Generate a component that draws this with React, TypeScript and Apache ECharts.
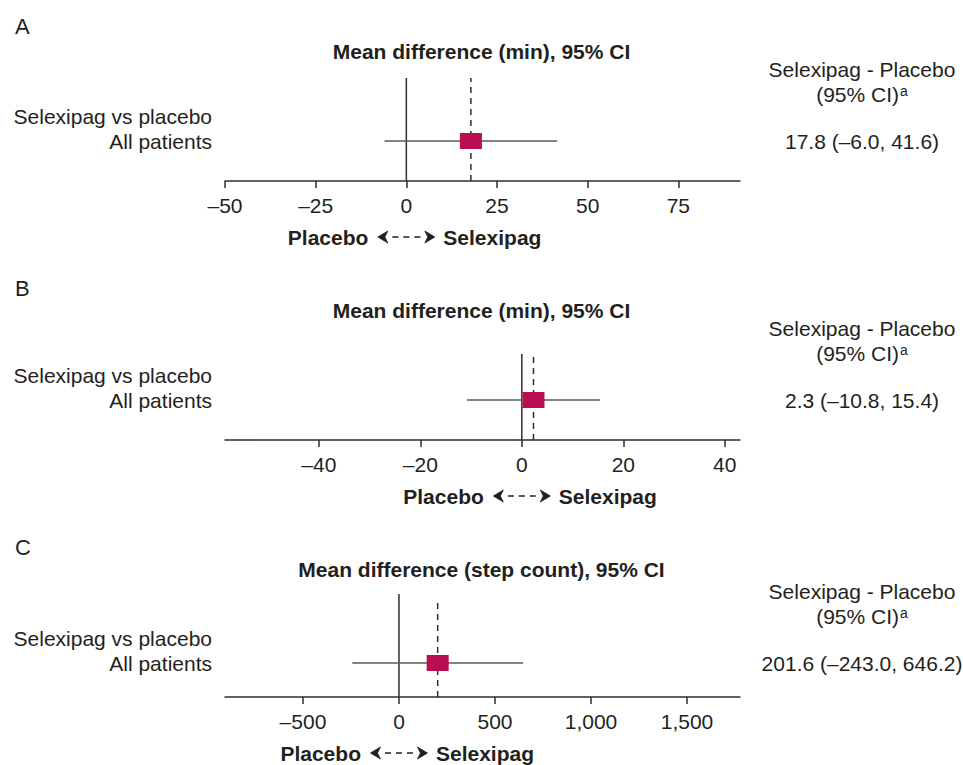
import React, { useEffect, useRef } from "react";
import * as echarts from "echarts";

// ---- data ----
const panelLetters = ["A", "B", "C"];
const panelTitles = [
  "Mean difference (min), 95% CI",
  "Mean difference (min), 95% CI",
  "Mean difference (step count), 95% CI",
];
const estimates = [17.8, 2.3, 201.6];
const ciLower = [-6.0, -10.8, -243.0];
const ciUpper = [41.6, 15.4, 646.2];
const axisMin = [-50, -58.5, -906];
const axisMax = [92, 43, 1776];
const tickValues = [
  [-50, -25, 0, 25, 50, 75],
  [-40, -20, 0, 20, 40],
  [-500, 0, 500, 1000, 1500],
];
const rowLabels = ["Selexipag vs placebo", "All patients"];
const resultHeader = ["Selexipag - Placebo", "(95% CI)", "a"];
const directionLabels = ["Placebo", "Selexipag"];

// ---- layout (pixels) ----
const PLOT_LEFT = 225;
const PLOT_RIGHT = 740;
const W = 963;
const H = 765;
const panelLayout = [
  { top: 78, row: 141, axis: 181, dashTop: 78, letterY: 26, titleY: 51 },
  { top: 354, row: 400, axis: 440, dashTop: 354, letterY: 288, titleY: 310 },
  { top: 594, row: 663, axis: 697, dashTop: 601, letterY: 547, titleY: 569 },
];
const FONT = '"Liberation Sans", Arial, Helvetica, sans-serif';
const TEXT = "#231f20";
const LINE = "#2e2e2e";
const CI_COLOR = "#5a5a5a";
const SQUARE = "#b80f50";

const fmtTick = (v: number) =>
  (v < 0 ? "\u2013" : "") + Math.abs(v).toLocaleString("en-US");
const fmtVal = (v: number) => (v < 0 ? "\u2013" : "") + Math.abs(v).toFixed(1);

const textWidth = (text: string, fontSize: number) => {
  try {
    const t = new (echarts.graphic as any).Text({
      style: { text, fontSize, fontFamily: FONT },
    });
    const w = t.getBoundingRect().width;
    if (w > 0) return w;
  } catch (e) {
    /* ignore */
  }
  return text.length * fontSize * 0.5;
};

export default function App() {
  const ref = useRef<HTMLDivElement>(null);
  useEffect(() => {
    const chart = echarts.init(ref.current!, null, { renderer: "svg" });
    const grid: any[] = [];
    const xAxis: any[] = [];
    const yAxis: any[] = [];
    const series: any[] = [];

    panelLayout.forEach((p, i) => {
      const ymax = p.axis - p.top;
      const rowY = p.axis - p.row;
      const dashY = p.axis - p.dashTop;
      grid.push({
        left: PLOT_LEFT,
        width: PLOT_RIGHT - PLOT_LEFT,
        top: p.top,
        height: p.axis - p.top,
      });
      xAxis.push({
        type: "value",
        gridIndex: i,
        min: axisMin[i],
        max: axisMax[i],
        splitLine: { show: false },
        axisLine: { show: true, onZero: false, lineStyle: { color: LINE, width: 1.5 } },
        axisTick: {
          show: true,
          length: 7,
          customValues: tickValues[i],
          lineStyle: { color: LINE, width: 1.5 },
        },
        axisLabel: {
          customValues: tickValues[i],
          formatter: fmtTick,
          fontSize: 21,
          fontFamily: FONT,
          color: TEXT,
          margin: 14,
        },
      });
      yAxis.push({
        type: "value",
        gridIndex: i,
        min: 0,
        max: ymax,
        show: false,
      });
      const base = { xAxisIndex: i, yAxisIndex: i, silent: true, symbol: "none", animation: false };
      series.push({
        ...base,
        type: "line",
        data: [
          [0, 0],
          [0, ymax],
        ],
        lineStyle: { color: LINE, width: 1.5 },
        z: 2,
      });
      series.push({
        ...base,
        type: "line",
        data: [
          [estimates[i], 0],
          [estimates[i], dashY],
        ],
        lineStyle: { color: LINE, width: 1.5, type: [6, 5] },
        z: 2,
      });
      series.push({
        ...base,
        type: "line",
        data: [
          [ciLower[i], rowY],
          [ciUpper[i], rowY],
        ],
        lineStyle: { color: CI_COLOR, width: 1.5 },
        z: 3,
      });
      series.push({
        xAxisIndex: i,
        yAxisIndex: i,
        silent: true,
        type: "scatter",
        symbol: "rect",
        symbolSize: [22, 16],
        itemStyle: { color: SQUARE, opacity: 1 },
        data: [[estimates[i], rowY]],
        z: 5,
      });
    });

    chart.setOption({
      animation: false,
      backgroundColor: "#ffffff",
      grid,
      xAxis,
      yAxis,
      series,
    });

    const txt = (text: string, x: number, y: number, opts: any = {}) => ({
      type: "text",
      x,
      y,
      silent: true,
      style: {
        text,
        fill: TEXT,
        fontSize: 21,
        fontFamily: FONT,
        align: "center",
        verticalAlign: "middle",
        ...opts,
      },
    });

    const graphic: any[] = [];
    const titleX = (PLOT_LEFT + PLOT_RIGHT) / 2 - 1;
    const resultX = 862;
    const ciW = textWidth(resultHeader[1], 21);
    const supW = textWidth(resultHeader[2], 14);
    const ciStart = resultX - (ciW + supW + 1) / 2;
    panelLayout.forEach((p, i) => {
      graphic.push(txt(panelLetters[i], 15, p.letterY, { align: "left", fontSize: 22 }));
      graphic.push(txt(panelTitles[i], titleX, p.titleY, { fontWeight: "bold" }));
      graphic.push(txt(rowLabels[0], 212, p.row - 25, { align: "right" }));
      graphic.push(txt(rowLabels[1], 212, p.row, { align: "right" }));
      graphic.push(txt(resultHeader[0], resultX, p.row - 72));
      graphic.push(txt(resultHeader[1], ciStart, p.row - 47, { align: "left" }));
      graphic.push(
        txt(resultHeader[2], ciStart + ciW + 1, p.row - 50, { align: "left", fontSize: 14 })
      );
      graphic.push(
        txt(
          fmtVal(estimates[i]) + " (" + fmtVal(ciLower[i]) + ", " + fmtVal(ciUpper[i]) + ")",
          resultX,
          p.row
        )
      );
      // direction arrow centred at 0
      const x0 = chart.convertToPixel({ xAxisIndex: i }, 0) as number;
      const ay = p.axis + 56;
      graphic.push(txt(directionLabels[0], x0 - 38, ay, { align: "right", fontWeight: "bold" }));
      graphic.push(txt(directionLabels[1], x0 + 37, ay, { align: "left", fontWeight: "bold" }));
      graphic.push({
        type: "line",
        silent: true,
        shape: { x1: x0 - 14, y1: ay, x2: x0 + 14, y2: ay },
        style: { stroke: TEXT, lineWidth: 1.6, lineDash: [6, 5] },
      });
      graphic.push({
        type: "polygon",
        silent: true,
        shape: {
          points: [
            [x0 - 28.5, ay],
            [x0 - 18.5, ay - 6],
            [x0 - 21.5, ay],
            [x0 - 18.5, ay + 6],
          ],
        },
        style: { fill: TEXT, stroke: TEXT, lineWidth: 0.8, lineJoin: "round" },
      });
      graphic.push({
        type: "polygon",
        silent: true,
        shape: {
          points: [
            [x0 + 28.5, ay],
            [x0 + 18.5, ay - 6],
            [x0 + 21.5, ay],
            [x0 + 18.5, ay + 6],
          ],
        },
        style: { fill: TEXT, stroke: TEXT, lineWidth: 0.8, lineJoin: "round" },
      });
    });

    chart.setOption({ graphic });
    return () => chart.dispose();
  }, []);

  return (
    <div
      ref={ref}
      style={{ position: "absolute", left: 0, top: 0, width: W, height: H }}
    />
  );
}
